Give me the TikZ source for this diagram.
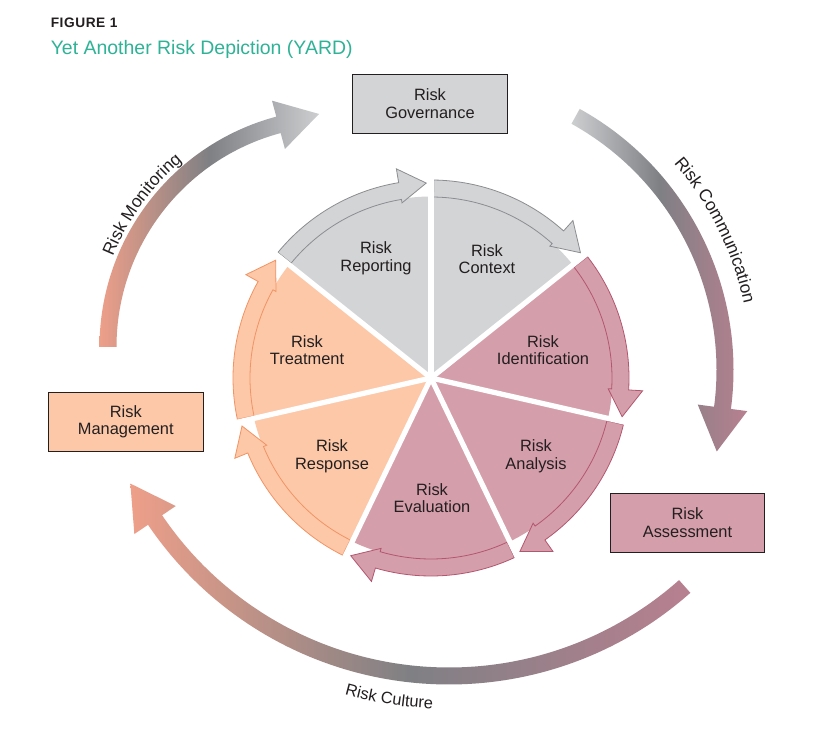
\documentclass[tikz,border=0pt]{standalone}
\usepackage{fontspec}
\setmainfont{Liberation Sans}
\usetikzlibrary{calc,decorations.text}
\definecolor{pgray}{HTML}{D3D4D6}
\definecolor{pgrayl}{HTML}{8C8D90}
\definecolor{pmauve}{HTML}{D59EAB}
\definecolor{pmauvel}{HTML}{B3566F}
\definecolor{ppeach}{HTML}{FCC8A8}
\definecolor{ppeachl}{HTML}{F29363}
\definecolor{txt}{HTML}{231F20}
\definecolor{titleteal}{HTML}{2FB296}
\definecolor{gpeach}{HTML}{EE9F89}
\definecolor{gdark}{HTML}{7F8084}
\definecolor{glight}{HTML}{CDCED0}
\definecolor{gmauve}{HTML}{B88090}
\newcommand\lblfont{\fontsize{12.3}{13.2}\selectfont}
\newcommand\arcfont{\fontsize{13}{13}\selectfont}
% #1 start angle, #2 end angle (clockwise), #3 fill, #4 outline
\newcommand\pieseg[4]{%
  \fill[#3] (C) -- ($(C)+(#1:181.5)$) arc[start angle=#1, end angle=#2, radius=181.5] -- cycle;
  \draw[#4, fill=#3, line width=0.6pt, line join=miter]
    ($(C)+({#1-0.8}:198)$) arc[start angle={#1-0.8}, end angle={#2+9.4}, radius=198]
    -- ($(C)+({#2+9.4}:212)$) -- ($(C)+({#2+1.4}:195)$) -- ($(C)+({#2+9.4}:177.5)$)
    -- ($(C)+({#2+9.4}:181)$) arc[start angle={#2+9.4}, end angle={#1-0.8}, radius=181] -- cycle;
}
\begin{document}
\begin{tikzpicture}[x=0.75pt,y=0.75pt,
  box/.style={draw=txt, line width=0.8pt, minimum width=116pt, minimum height=44pt,
    align=center, text=txt, font=\lblfont, inner sep=0pt},
  lbl/.style={align=center, text=txt, font=\lblfont, inner sep=0pt}]
\useasboundingbox (0,0) rectangle (814,-730);
\fill[white] (0,0) rectangle (814,-730);

% title
\node[anchor=base west, inner sep=0pt, text=txt,
  font={\fontsize{10.3}{12}\selectfont\bfseries\addfontfeatures{LetterSpace=4}}] (fig) at (50.5,-28) {FIGURE 1};
\node[anchor=base west, inner sep=0pt, text=titleteal, font={\fontsize{14.6}{16}\selectfont}] (title) at (50.5,-55) {Yet Another Risk Depiction (YARD)};

% centres
\coordinate (C) at (431,-378);
\coordinate (M1) at (338,-347);
\coordinate (M2) at (435,-370);
\coordinate (M3) at (449,-321);

% big arrows
\shade[left color=gpeach, right color=glight, middle color=gdark]
  ($(M1)+(180:221.5)$) arc[start angle=180, end angle=105, radius=221.5]
  -- ($(M1)+(105:205)$) -- ($(M1)+(105:230)+(15:42)$) -- ($(M1)+(105:255)$)
  -- ($(M1)+(105:238.5)$) arc[start angle=105, end angle=180, radius=238.5] -- cycle;
\shade[left color=glight, right color=gmauve, middle color=gdark]
  ($(M2)+(61:298.5)$) arc[start angle=61, end angle=-7.5, radius=298.5]
  -- ($(M2)+(-7.5:315)$) -- ($(M2)+(-7.5:290)+(-97.5:44)$) -- ($(M2)+(-7.5:265)$)
  -- ($(M2)+(-7.5:281.5)$) arc[start angle=-7.5, end angle=61, radius=281.5] -- cycle;
\shade[left color=gpeach, right color=gmauve, middle color=gdark]
  ($(M3)+(-48.4:363.5)$) arc[start angle=-48.4, end angle=-145.9, radius=363.5]
  -- ($(M3)+(-145.9:380)$) -- ($(M3)+(-145.9:355)+(124.1:44)$) -- ($(M3)+(-145.9:330)$)
  -- ($(M3)+(-145.9:346.5)$) arc[start angle=-145.9, end angle=-48.4, radius=346.5] -- cycle;

% arrow labels
\path[decorate, decoration={text along path, text={|\arcfont|Risk Monitoring}, text align=center, text color=txt}]
  ($(M1)+(172:242.5)$) arc[start angle=172, end angle=116, radius=242.5];
\path[decorate, decoration={text along path, text={|\arcfont|Risk Communication}, text align=center, text color=txt}]
  ($(M2)+(56:316)$) arc[start angle=56, end angle=-3, radius=316];
\path[decorate, decoration={text along path, text={|\lblfont|Risk Culture}, text align=center, text color=txt}]
  ($(M3)+(-119:388)$) arc[start angle=-119, end angle=-79, radius=388];

% boxes
\node[box, fill=pgray] (gov) at (430,-103.8) {Risk\\Governance};
\node[box, fill=ppeach] (mgmt) at (125.8,-421.9) {Risk\\Management};
\node[box, fill=pmauve] (assess) at (687.5,-522.8) {Risk\\Assessment};

% pie
\pieseg{90}{38.571}{pgray}{pgrayl}
\pieseg{38.571}{-12.857}{pmauve}{pmauvel}
\pieseg{-12.857}{-64.286}{pmauve}{pmauvel}
\pieseg{-64.286}{-115.714}{pmauve}{pmauvel}
\pieseg{-115.714}{-167.143}{ppeach}{ppeachl}
\pieseg{-167.143}{-218.571}{ppeach}{ppeachl}
\pieseg{141.429}{90}{pgray}{pgrayl}
\foreach \b in {90,38.571,-12.857,-64.286,-115.714,-167.143,141.429}
  \draw[white, line width=3.9pt] (C) -- ($(C)+(\b:219)$);

% pie labels
\node[lbl] (rep) at (376,-258) {Risk\\Reporting};
\node[lbl] (ctx) at (487,-259) {Risk\\Context};
\node[lbl] (ident) at (543,-350) {Risk\\Identification};
\node[lbl] (treat) at (307,-350) {Risk\\Treatment};
\node[lbl] (resp) at (332,-456) {Risk\\Response};
\node[lbl] (eval) at (432,-498) {Risk\\Evaluation};
\node[lbl] (anal) at (536,-456) {Risk\\Analysis};
\end{tikzpicture}
\end{document}
